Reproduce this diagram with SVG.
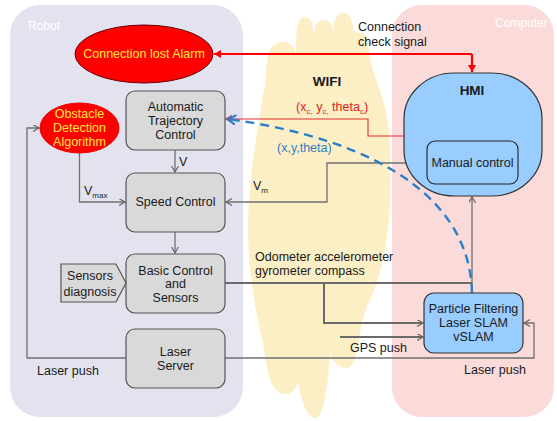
<svg xmlns="http://www.w3.org/2000/svg" width="557" height="421" viewBox="0 0 557 421">
<style>
text{font-family:"Liberation Sans",Arial,sans-serif;font-size:12.5px;fill:#1a1a1a}
.c{text-anchor:middle}
.yl{fill:#ffe83c}
.wt{fill:#ffffff;font-size:12px}
.box{fill:#d9d9d9;stroke:#555;stroke-width:1.2}
.bl{fill:#99ccff;stroke:#333;stroke-width:1.2}
.ln{fill:none;stroke:#707070;stroke-width:1.3}
.thk{fill:none;stroke:#6a6a6a;stroke-width:2}
.sub{font-size:8px}
</style>
<defs>
<marker id="ag" markerWidth="8" markerHeight="8" refX="6" refY="3.5" orient="auto" markerUnits="userSpaceOnUse">
<path d="M0,0 L6,3.5 L0,7" fill="none" stroke="#666" stroke-width="1.2"/>
</marker>
<marker id="ar" markerWidth="9" markerHeight="9" refX="7" refY="4" orient="auto" markerUnits="userSpaceOnUse">
<path d="M0,0 L7,4 L0,8 Z" fill="#ff0000"/>
</marker>
<marker id="arr" markerWidth="8" markerHeight="8" refX="6" refY="3.5" orient="auto" markerUnits="userSpaceOnUse">
<path d="M0,0 L6,3.5 L0,7" fill="none" stroke="#e03030" stroke-width="1.2"/>
</marker>
<marker id="ab" markerWidth="12" markerHeight="12" refX="8" refY="5" orient="auto" markerUnits="userSpaceOnUse">
<path d="M0,0 L8,5 L0,10" fill="none" stroke="#2a7fc6" stroke-width="2.2"/>
</marker>
</defs>

<g id="panels">
<rect x="10" y="5" width="233" height="412" rx="30" fill="#e3e3ef"/>
<rect x="392" y="5" width="162" height="412" rx="30" fill="#fbdada"/>
<path d="M266,75 Q266,42 282,42 Q294,42 296,55 Q295,17 304,17 Q313,17 314,35 Q315,20 323,20 Q332,20 333,32 Q334,13 343,13 Q352,13 353,30 Q355,33 361,33 Q368,33 369,50 C372,80 390,100 390,150 C392,210 388,260 370,300 C360,320 360,340 357,350 Q353,370 345,368 Q335,367 330,355 Q325,420 315,418 Q305,418 298,383 Q292,398 280,393 Q268,388 263,343 C255,310 248,270 248,230 C248,180 258,130 262,100 C264,90 266,85 266,75 Z" fill="#fcefc5"/>
<text class="wt" x="28" y="30">Robot</text>
<text class="wt" x="495" y="27">Computer</text>
<text x="327" y="86" class="c" style="font-weight:bold;font-size:13.5px">WIFI</text>
</g>

<g id="connectors">
<polyline class="ln" points="126,358 27,358 27,128 39,128" marker-end="url(#ag)"/>
<polyline class="ln" points="79.5,153 79.5,202 125,202" marker-end="url(#ag)"/>
<line class="ln" x1="175" y1="150" x2="175" y2="172" marker-end="url(#ag)"/>
<line class="ln" x1="175" y1="232" x2="175" y2="253" marker-end="url(#ag)"/>
<polyline class="ln" points="427,163 327,163 327,202 226,202" marker-end="url(#ag)"/>
<polyline fill="none" stroke="#e03030" stroke-width="1.1" points="404,136 368,136 368,119 226,119" marker-end="url(#arr)"/>
<polyline fill="none" stroke="#ff0000" stroke-width="2.2" points="472,54 214,54" marker-end="url(#ar)"/>
<polyline fill="none" stroke="#ff0000" stroke-width="2.2" points="472,54 472,72" marker-end="url(#ar)"/>
<line class="thk" x1="225" y1="283" x2="472" y2="283"/>
<polyline class="thk" points="324,283 324,323 423,323" marker-end="url(#ag)"/>
<line class="ln" x1="472" y1="293" x2="472" y2="197" marker-end="url(#ag)"/>
<line class="thk" x1="340" y1="337" x2="423" y2="337" marker-end="url(#ag)"/>
<polyline class="ln" points="225,358 534,358 534,323 524,323" marker-end="url(#ag)"/>
<path d="M472,293 C470,200 380,140 228,119" fill="none" stroke="#2a7fc6" stroke-width="2.4" stroke-dasharray="9,6" marker-end="url(#ab)"/>
<text x="84" y="195">V<tspan class="sub" dy="3">max</tspan></text>
<text x="179" y="166">V</text>
<text x="253" y="190">V<tspan class="sub" dy="3">m</tspan></text>
<text x="296" y="111" style="fill:#e02020">(x<tspan class="sub" dy="3" style="fill:#e02020">c,</tspan><tspan dy="-3" style="fill:#e02020"> y</tspan><tspan class="sub" dy="3" style="fill:#e02020">c,</tspan><tspan dy="-3" style="fill:#e02020"> theta</tspan><tspan class="sub" dy="3" style="fill:#e02020">c</tspan><tspan dy="-3" style="fill:#e02020">)</tspan></text>
<text x="277" y="152" style="fill:#2f7fc0">(x,y,theta)</text>
<text x="358" y="31">Connection</text>
<text x="358" y="46">check signal</text>
<text x="255" y="261">Odometer accelerometer</text>
<text x="255" y="275">gyrometer compass</text>
<text x="350" y="352">GPS push</text>
<text x="37" y="375">Laser push</text>
<text x="464" y="374">Laser push</text>
</g>

<g id="alarm">
<ellipse cx="144" cy="54" rx="69" ry="29" fill="#ff0000" stroke="#600" stroke-width="1"/>
<text x="144" y="58" class="c yl">Connection lost Alarm</text>
</g>

<g id="obstacle">
<ellipse cx="79.5" cy="128" rx="39.5" ry="25" fill="#ff0000" stroke="#e00" stroke-width="1"/>
<text x="79.5" y="118" class="c yl">Obstacle</text>
<text x="79.5" y="132" class="c yl">Detection</text>
<text x="79.5" y="146" class="c yl">Algorithm</text>
</g>

<g id="trajectory">
<rect class="box" x="126" y="91" width="99" height="59" rx="9"/>
<text x="175.5" y="111" class="c">Automatic</text>
<text x="175.5" y="125" class="c">Trajectory</text>
<text x="175.5" y="139" class="c">Control</text>
</g>

<g id="speed">
<rect class="box" x="126" y="173" width="99" height="59" rx="9"/>
<text x="175.5" y="206" class="c">Speed Control</text>
</g>

<g id="basic">
<rect class="box" x="126" y="254" width="99" height="59" rx="9"/>
<text x="175.5" y="275" class="c">Basic Control</text>
<text x="175.5" y="288" class="c">and</text>
<text x="175.5" y="302" class="c">Sensors</text>
</g>

<g id="diagnosis">
<path d="M61,264 L116,264 L126,283 L116,302 L61,302 Z" fill="#d9d9d9" stroke="#555" stroke-width="1.2"/>
<text x="90" y="280" class="c">Sensors</text>
<text x="90" y="296" class="c">diagnosis</text>
</g>

<g id="laser">
<rect class="box" x="126" y="329" width="99" height="59" rx="9"/>
<text x="175.5" y="356" class="c">Laser</text>
<text x="175.5" y="370" class="c">Server</text>
</g>

<g id="hmi">
<rect class="bl" x="404" y="73" width="138" height="123" rx="50" ry="46"/>
<text x="472" y="95" class="c" style="font-weight:bold;font-size:13.5px">HMI</text>
</g>

<g id="manual">
<rect x="427" y="141" width="91" height="43" rx="8" fill="#99ccff" stroke="#222" stroke-width="1.1"/>
<text x="472.5" y="167" class="c">Manual control</text>
</g>

<g id="particle">
<rect class="bl" x="424" y="293" width="99" height="60" rx="10"/>
<text x="473.5" y="313" class="c">Particle Filtering</text>
<text x="473.5" y="327" class="c">Laser SLAM</text>
<text x="473.5" y="341" class="c">vSLAM</text>
</g>
</svg>
